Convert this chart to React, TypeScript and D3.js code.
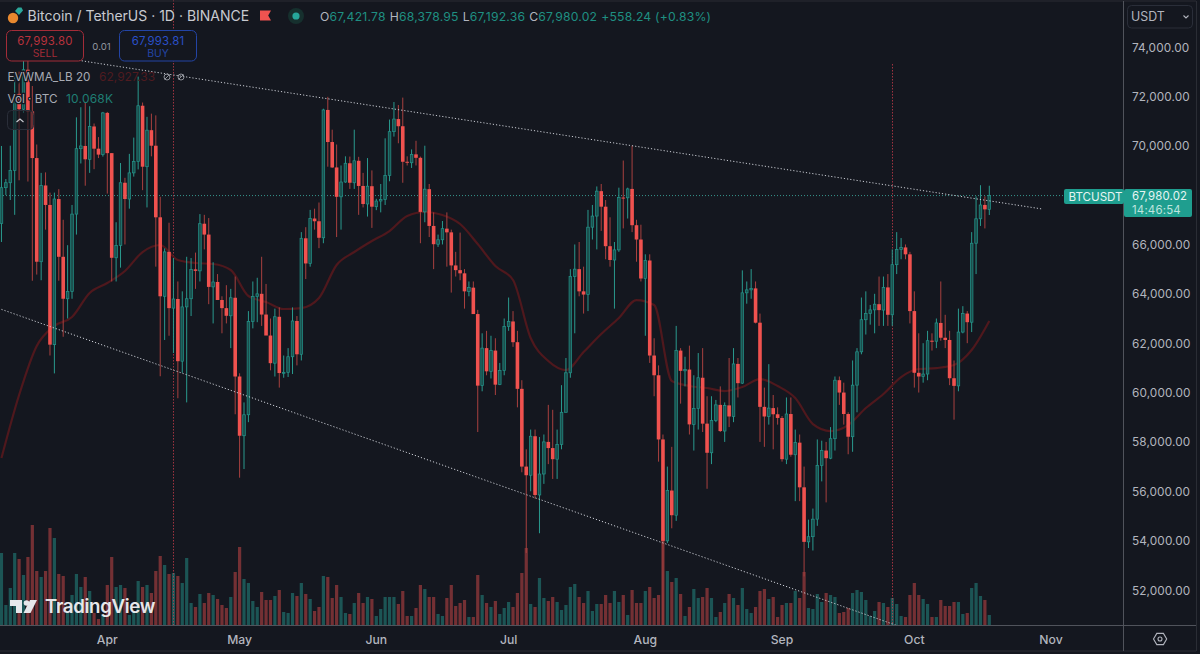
import React from 'react';
import * as d3 from 'd3';

// Daily BTCUSDT candles, first one is 8 Mar, last one is 18 Oct
const opens = [
  66850, 68300, 68500, 69000, 72100, 71480, 73080, 71390, 69500, 65300, 68390, 67600, 61940, 67840, 65500, 63800, 64100, 67230, 69880, 69990, 69450, 70780, 69880, 69640,
  71330, 69700, 65460, 65960, 68500, 67840, 68900, 69360, 71620, 69150, 70630, 70000, 67100, 63900, 65700, 63420, 63790, 61270, 63470, 63800, 64990, 64930, 66840, 66400, 64280, 64480, 63750, 63420, 63110, 63840,
  60650, 58250, 59100, 62880, 63890, 64000, 63160, 62310, 61190, 63070, 60790, 60820, 61450, 62900, 61550, 66250, 65230, 67050, 66940, 66270, 71450, 70150, 69120, 67930, 68530, 69290, 68500, 69390, 68370, 67640, 68360,
  67530, 67760, 67820, 68800, 70570, 71080, 70790, 69350, 69310, 69650, 69510, 67320, 68240, 66750, 66010, 66190, 66640, 66490, 65150, 64960, 64830, 64100, 64250, 63180, 60280, 61800, 60860, 61700, 60320, 60890,
  62680, 62880, 62040, 60150, 57000, 56650, 58230, 55850, 56700, 58000, 57750, 57300, 57900, 59200, 60800, 64700, 65000, 64100, 63970, 66700, 67150, 68160, 67530, 65930, 65370, 65780, 67900, 67890, 68250, 66780, 66200,
  64620, 65350, 61500, 60700, 58100, 53990, 56030, 55030, 61700, 60880, 60930, 58710, 59350, 60600, 58740, 57560, 58870, 59500, 58440, 59480, 59030, 61160, 60380, 64040, 64160, 64220, 62830, 59420, 59030, 59370, 59120,
  58970, 57300, 59130, 57480, 57970, 56160, 53950, 54160, 54870, 57050, 57650, 57340, 58130, 60500, 60000, 59130, 58210, 60300, 61650, 62950, 63200, 63350, 63580, 63340, 64260, 63150, 65180, 65800, 65880, 65600,
  63300, 60800, 60650, 60750, 62100, 62080, 62820, 62220, 62130, 60580, 60270, 62450, 63200, 62850, 66050, 67040, 67600, 67421.78,
];
const highs = [
  69990, 68650, 70000, 72800, 73000, 73650, 73780, 72420, 70050, 68900, 68920, 68100, 68100, 68240, 67000, 65970, 67600, 71150, 71560, 71770, 71600, 70900, 70350, 71370,
  71370, 69700, 66900, 69300, 68700, 69670, 70330, 72800, 71750, 71170, 71300, 71230, 67930, 65840, 66880, 65450, 64500, 64100, 65500, 65450, 65670, 67230, 67200, 67070, 65280, 64800, 63900, 64350, 64200, 64700,
  60780, 59600, 63300, 64500, 64650, 65500, 64400, 63000, 63400, 63450, 61500, 61800, 63450, 63100, 66500, 66700, 67400, 67450, 67700, 71500, 71980, 70650, 70050, 69200, 69570, 69560, 70650, 69550, 68900, 69500, 69000,
  67850, 68450, 70300, 71060, 71770, 71650, 71950, 69570, 69850, 70200, 69560, 70000, 68450, 67300, 66400, 66950, 67300, 66600, 65700, 66480, 65000, 64500, 64500, 63350, 62400, 62500, 62300, 62200, 61200, 63000,
  63850, 63300, 62500, 60500, 57700, 58500, 58500, 58200, 58300, 59500, 59300, 58500, 60300, 61400, 65000, 66000, 66100, 65100, 67400, 67600, 68350, 68450, 67800, 67100, 66100, 68300, 69400, 68300, 70000, 67000, 66800,
  65600, 65600, 62200, 61100, 58300, 57000, 57800, 62700, 61800, 61450, 61900, 60700, 61600, 61800, 59850, 59850, 59700, 60250, 59600, 61400, 61800, 61400, 64950, 64500, 65000, 64500, 63200, 60200, 61150, 59900, 59400,
  59050, 59800, 59800, 58500, 58300, 57000, 54850, 55300, 58100, 58050, 58000, 58600, 60650, 60650, 60400, 59200, 61300, 61800, 63850, 64100, 63550, 64000, 64700, 64700, 64800, 65800, 66500, 66260, 66000, 65700,
  64100, 62400, 62000, 62500, 62400, 63000, 64500, 63150, 62500, 61300, 63400, 63500, 63300, 66500, 67950, 68400, 67950, 68378.95,
];
const lows = [
  66100, 68000, 67800, 67200, 68600, 71330, 68550, 64530, 64780, 64550, 66600, 61500, 60775, 64530, 62260, 63000, 63800, 66400, 69280, 68380, 68900, 69050, 69500, 69560,
  68060, 64500, 64500, 65060, 66000, 67450, 68750, 69040, 68200, 67500, 69570, 65100, 60660, 62130, 62300, 61600, 59770, 60800, 59600, 63100, 64200, 64500, 65800, 63580, 62800, 63800, 62400, 62800, 61800, 59120,
  56550, 56900, 58800, 62600, 62850, 62700, 62400, 60900, 60650, 60200, 60600, 60630, 60750, 61100, 61300, 64600, 65100, 66600, 65850, 66050, 69150, 69100, 66300, 66600, 68500, 68250, 68250, 67200, 67500, 67130, 66670,
  67390, 67300, 67600, 68560, 70370, 70100, 68500, 69200, 69100, 69200, 66050, 66900, 66300, 65000, 65900, 66000, 65100, 64050, 64700, 64550, 63400, 63900, 63200, 58400, 60050, 60700, 60570, 59900, 60300, 60700,
  62500, 61850, 59400, 56770, 53500, 56000, 55700, 54300, 56300, 57100, 56500, 56500, 57700, 59200, 60600, 62400, 63900, 63200, 63300, 66200, 65800, 66550, 65400, 65100, 63400, 65700, 66650, 67050, 66500, 65300, 64500,
  62300, 61200, 59850, 57200, 49000, 53900, 54500, 54800, 59550, 60250, 58300, 57650, 58500, 58400, 56100, 57100, 58800, 58400, 58000, 58600, 58800, 59800, 60350, 63600, 63800, 62800, 58000, 57800, 58700, 57700, 58700,
  57200, 57100, 57400, 55600, 55600, 52550, 53700, 53600, 54600, 56400, 55550, 57300, 57650, 59500, 58700, 57500, 57600, 59200, 61550, 62350, 62750, 62400, 62700, 62700, 62700, 62700, 64800, 65400, 65400, 62800,
  60200, 60000, 60400, 60500, 61700, 61800, 62100, 61800, 60300, 58900, 60050, 62400, 62000, 62450, 64800, 66750, 66650, 67192.36,
];
const closes = [
  68300, 68500, 69000, 72100, 71480, 73080, 71390, 69500, 65300, 68390, 67600, 61940, 67840, 65500, 63800, 64100, 67230, 69880, 69990, 69450, 70780, 69880, 69640, 71330,
  69700, 65460, 65960, 68500, 67840, 68900, 69360, 71620, 69150, 70630, 70000, 67100, 63900, 65700, 63420, 63790, 61270, 63470, 63800, 64990, 64930, 66840, 66400, 64280, 64480, 63750, 63420, 63110, 63840, 60650,
  58250, 59100, 62880, 63890, 64000, 63160, 62310, 61190, 63070, 60790, 60820, 61450, 62900, 61550, 66250, 65230, 67050, 66940, 66270, 71450, 70150, 69120, 67930, 68530, 69290, 68500, 69390, 68370, 67640, 68360, 67530,
  67760, 67820, 68800, 70570, 71080, 70790, 69350, 69310, 69650, 69510, 67320, 68240, 66750, 66010, 66190, 66640, 66490, 65150, 64960, 64830, 64100, 64250, 63180, 60280, 61800, 60860, 61700, 60320, 60890, 62680,
  62880, 62040, 60150, 57000, 56650, 58230, 55850, 56700, 58000, 57750, 57300, 57900, 59200, 60800, 64700, 65000, 64100, 63970, 66700, 67150, 68160, 67530, 65930, 65370, 65780, 67900, 67890, 68250, 66780, 66200, 64620,
  65350, 61500, 60700, 58100, 53990, 56030, 55030, 61700, 60880, 60930, 58710, 59350, 60600, 58740, 57560, 58870, 59500, 58440, 59480, 59030, 61160, 60380, 64040, 64160, 64220, 62830, 59420, 59030, 59370, 59120, 58970,
  57300, 59130, 57480, 57970, 56160, 53950, 54160, 54870, 57050, 57650, 57340, 58130, 60500, 60000, 59130, 58210, 60300, 61650, 62950, 63200, 63350, 63580, 63340, 64260, 63150, 65180, 65800, 65880, 65600, 63300,
  60800, 60650, 60750, 62100, 62080, 62820, 62220, 62130, 60580, 60270, 62450, 63200, 62850, 66050, 67040, 67600, 67421.78, 67980.02,
];

// Volume in thousands of BTC
const volumes = [
  72, 20, 37, 72, 66, 50, 68, 100, 54, 48, 54, 97, 87, 51, 49, 14, 30, 51, 38, 48, 34, 12, 6, 10,
  40, 68, 38, 40, 37, 10, 12, 44, 38, 40, 32, 54, 69, 60, 51, 52, 49, 42, 67, 22, 18, 31, 22, 32, 30, 26, 20, 17, 28, 53,
  78, 46, 42, 24, 18, 33, 25, 25, 29, 35, 13, 12, 32, 29, 42, 31, 26, 14, 18, 49, 48, 27, 40, 28, 12, 11, 22, 32, 22, 28, 26,
  9, 16, 28, 28, 28, 21, 34, 9, 9, 17, 40, 36, 28, 28, 11, 9, 27, 40, 19, 22, 25, 8, 8, 50, 30, 22, 18, 24, 11, 17,
  23, 18, 32, 52, 77, 21, 18, 47, 27, 24, 28, 23, 15, 20, 38, 41, 28, 22, 34, 14, 21, 21, 30, 22, 34, 23, 30, 10, 35, 22, 22,
  34, 38, 27, 30, 95, 54, 43, 47, 31, 9, 18, 36, 27, 28, 37, 27, 8, 13, 22, 31, 27, 20, 37, 16, 12, 18, 34, 36, 26, 28, 8,
  20, 22, 22, 34, 27, 53, 17, 16, 31, 23, 32, 30, 28, 12, 13, 17, 32, 35, 33, 25, 9, 14, 23, 22, 18, 27, 21, 9, 8, 30,
  42, 30, 26, 21, 8, 8, 25, 19, 19, 23, 23, 11, 12, 37, 42, 29, 25, 10,
];

// EVWMA read every 4th candle
const evwmaStep = 4;
const evwma = [
  57346, 59899, 61885, 62695, 63060, 64032, 64437, 64924, 65693, 65977, 65369, 65248, 65207, 64964, 63911, 63667, 63384, 63424, 63829,
  65167, 65693, 66139, 66544, 67152, 67314, 67193, 66828, 66018, 65126, 64559, 62209, 61277, 60912, 61641, 62371, 63019, 63748, 63546,
  60466, 60264, 60183, 60061, 60223, 60547, 60264, 59777, 58724, 58440, 58683, 59372, 59940, 60628, 60953, 60993, 61115, 61722, 62898,
];

// Trend lines as [candle index, price]
const upperTrend: [number, number][] = [[6, 73777], [236, 67436]];
const lowerTrend: [number, number][] = [[0, 63370], [204, 50500]];
const markerDays = [39, 202];

// 68,000.00 sits under the last price tag, so it is not listed
const priceTicks = [74000, 72000, 70000, 66000, 64000, 62000, 60000, 58000, 56000, 54000, 52000];
const monthLabels = ['Apr', 'May', 'Jun', 'Jul', 'Aug', 'Sep', 'Oct', 'Nov'];
const monthDays = [24, 54, 85, 115, 146, 177, 207, 238];
const lastPrice = 67980.02;

const BG = '#14171f';
const UP = '#26a69a';
const DOWN = '#f0524f';
const PANE_RIGHT = 1123.5;
const PANE_BOTTOM = 625.5;
const FONT = 'Inter, "Noto Sans", sans-serif';

const x = d3.scaleLinear().domain([0, 224]).range([1.46, 989.3]);
const y = d3.scaleLinear().domain([52000, 74000]).range([590, 47]);
const vol = d3.scaleLinear().domain([0, 100]).range([625, 525]);
const fmt = d3.format(',.2f');

const evwmaPath = d3.line<number>()
  .x((_, i) => x(i * evwmaStep))
  .y(d => y(d))
  .curve(d3.curveMonotoneX)(evwma) || '';
const trendPath = d3.line<[number, number]>().x(d => x(d[0])).y(d => y(d[1]));

const halo = { stroke: BG, strokeWidth: 2.5, paintOrder: 'stroke' as const };

const App: React.FC = () => {
  return (
    <svg
      width={1200}
      height={654}
      viewBox="0 0 1200 654"
      style={{ position: 'absolute', left: 0, top: 0, background: BG, fontFamily: FONT }}
    >
      <defs>
        <clipPath id="pane">
          <rect x={0} y={0} width={PANE_RIGHT} height={PANE_BOTTOM} />
        </clipPath>
      </defs>

      <g clipPath="url(#pane)">
        {/* Volume */}
        {volumes.map((v, i) => (
          <rect
            key={i}
            x={x(i) - 1.6}
            y={vol(v)}
            width={3.2}
            height={vol(0) - vol(v)}
            fill={closes[i] >= opens[i] ? UP : '#ef5350'}
            opacity={0.44}
          />
        ))}

        {/* Event markers */}
        {markerDays.map((d, i) => (
          <line
            key={d}
            x1={Math.round(x(d)) + 0.5}
            x2={Math.round(x(d)) + 0.5}
            y1={i === 0 ? 0 : 64}
            y2={PANE_BOTTOM}
            stroke="#d8404f"
            strokeOpacity={0.7}
            strokeDasharray="1.5 1.5"
          />
        ))}

        <line x1={0} x2={PANE_RIGHT} y1={y(lastPrice)} y2={y(lastPrice)} stroke="#3fb5a8" strokeOpacity={0.8} strokeDasharray="1 2" />

        <path d={evwmaPath} fill="none" stroke="#4f181d" strokeWidth={2.2} />

        {/* Candles */}
        {closes.map((c, i) => {
          const up = c >= opens[i];
          const top = y(Math.max(c, opens[i]));
          const h = Math.max(1, Math.abs(y(c) - y(opens[i])));
          return (
            <g key={i}>
              <line x1={x(i)} x2={x(i)} y1={y(highs[i])} y2={y(lows[i])} stroke={up ? '#2a9a8e' : '#a8403f'} strokeWidth={1} />
              {up ? (
                <rect x={x(i) - 1.3} y={top} width={2.6} height={h} fill="#1b4f4d" stroke="#23958b" strokeWidth={0.7} />
              ) : (
                <rect x={x(i) - 1.8} y={top} width={3.6} height={h} fill={DOWN} />
              )}
            </g>
          );
        })}

        <path d={trendPath(upperTrend) || ''} fill="none" stroke="#c9ccd3" strokeDasharray="1.2 2" />
        <path d={trendPath(lowerTrend) || ''} fill="none" stroke="#c9ccd3" strokeDasharray="1.2 2" />
      </g>

      {/* Watermark */}
      <g fill="#e6e7ea">
        <path d="M10 600h12v13h-6v-7h-6z" />
        <circle cx={26.5} cy={603} r={2.8} />
        <path d="M37 600l-6.5 13h-7l6.5-13z" />
        <text x={45} y={613} fontSize={18.7} fontWeight={600} letterSpacing={-0.35}>TradingView</text>
      </g>

      {/* Frame and axes */}
      <line x1={0} x2={1196} y1={1} y2={1} stroke="#2a2d35" />
      <line x1={0} x2={1196} y1={651} y2={651} stroke="#2a2d35" />
      <line x1={1196.5} x2={1196.5} y1={1} y2={651} stroke="#2a2d35" />
      <line x1={PANE_RIGHT} x2={PANE_RIGHT} y1={1} y2={651} stroke="#50535b" />
      <line x1={0} x2={1196} y1={PANE_BOTTOM} y2={PANE_BOTTOM} stroke="#50535b" />

      {priceTicks.map(t => (
        <text key={t} x={1132} y={y(t) + 4.5} fontSize={11.8} letterSpacing={0.1} fill="#b2b5be">{fmt(t)}</text>
      ))}
      {monthLabels.map((m, i) => (
        <text key={m} x={x(monthDays[i])} y={643.5} fontSize={12.2} fontWeight={500} fill="#b2b5be" textAnchor="middle">{m}</text>
      ))}

      {/* Settings icon */}
      <path d="M1153.5 639l3.3-5.6h6.6l3.3 5.6-3.3 5.6h-6.6z" fill="none" stroke="#b2b5be" strokeWidth={1.1} />
      <circle cx={1160} cy={639} r={2} fill="none" stroke="#b2b5be" strokeWidth={1.1} />

      {/* Currency button */}
      <rect x={1127.5} y={5.5} width={65} height={22.5} rx={4} fill={BG} stroke="#2a2e39" />
      <text x={1131} y={20.5} fontSize={12.4} fill="#b2b5be">USDT</text>
      <path d="M1183.5 15.5l2.5 2.5 2.5-2.5" fill="none" stroke="#b2b5be" strokeWidth={1.1} />

      {/* Last price tag */}
      <rect x={1064} y={189} width={60} height={15} rx={2} fill="#1f9e8f" />
      <text x={1068.5} y={200.5} fontSize={11.6} fill="#e6f5f3">BTCUSDT</text>
      <rect x={1124} y={189} width={68} height={28} rx={2} fill="#1f9e8f" />
      <text x={1132} y={200} fontSize={11.4} letterSpacing={0.2} fill="#e6f5f3">{fmt(lastPrice)}</text>
      <text x={1132} y={214} fontSize={11.4} letterSpacing={0.2} fill="#bfe5df">14:46:54</text>

      {/* Header */}
      <circle cx={13} cy={18} r={5.2} fill="#e8892f" />
      <path d="M15 11l3-3.5h3.5l1.5 3-4 4.5z" fill="#2ba79a" />
      <text x={27.5} y={21} fontSize={14} fill="#c8cad0">Bitcoin / TetherUS · 1D · BINANCE</text>
      <path d="M260 10.5h11l-2.8 5 2.8 5h-11z" fill="#ef5350" />
      <circle cx={296} cy={16} r={8} fill="#16302e" />
      <circle cx={296} cy={16} r={3.6} fill="#26a69a" />
      <text x={320} y={20.5} fontSize={12.2} letterSpacing={0.2} fill="#1f8f82">
        <tspan fill="#b2b5be">O</tspan>67,421.78
        <tspan fill="#b2b5be" dx={4}>H</tspan>68,378.95
        <tspan fill="#b2b5be" dx={4}>L</tspan>67,192.36
        <tspan fill="#b2b5be" dx={4}>C</tspan>67,980.02
        <tspan dx={4}>+558.24 (+0.83%)</tspan>
      </text>

      {/* Order buttons */}
      <rect x={6.5} y={30.5} width={77} height={30.5} rx={5} fill={BG} stroke="#a32c38" />
      <text x={45} y={44.5} fontSize={11.4} fill="#b8323d" textAnchor="middle" letterSpacing={0.2}>67,993.80</text>
      <text x={45} y={56.5} fontSize={10.4} fill="#a32c38" textAnchor="middle">SELL</text>
      <text x={101.5} y={49.5} fontSize={9.6} fill="#9598a1" textAnchor="middle">0.01</text>
      <rect x={119.5} y={30.5} width={77} height={30.5} rx={5} fill={BG} stroke="#2344a5" />
      <text x={158} y={44.5} fontSize={11.4} fill="#2a50c8" textAnchor="middle" letterSpacing={0.2}>67,993.81</text>
      <text x={158} y={56.5} fontSize={10.4} fill="#2344a5" textAnchor="middle">BUY</text>

      {/* Indicator legend */}
      <text x={7.5} y={81} fontSize={11.7} fill="#a8abb4" {...halo}>EVWMA_LB 20</text>
      <text x={99} y={81} fontSize={12} fill="#4f1b20">62,927.33</text>
      {[167, 181].map(cx => (
        <g key={cx} fill="none" stroke="#8f929a" strokeWidth={1}>
          <circle cx={cx} cy={77} r={3} />
          <line x1={cx - 2.4} x2={cx + 2.4} y1={79.4} y2={74.6} />
        </g>
      ))}
      <text x={7.5} y={102.5} fontSize={11.7} fill="#a8abb4" {...halo}>Vol · BTC</text>
      <text x={66} y={102.5} fontSize={12} letterSpacing={0.2} fill="#1f7e74">10.068K</text>
      <rect x={7.5} y={110.5} width={26} height={19} rx={4} fill="#14171f" fillOpacity={0.6} stroke="#2a2e39" />
      <path d="M16.5 122l3.5-3 3.5 3" fill="none" stroke="#c8cad0" strokeWidth={1.2} />
    </svg>
  );
};

export default App;
